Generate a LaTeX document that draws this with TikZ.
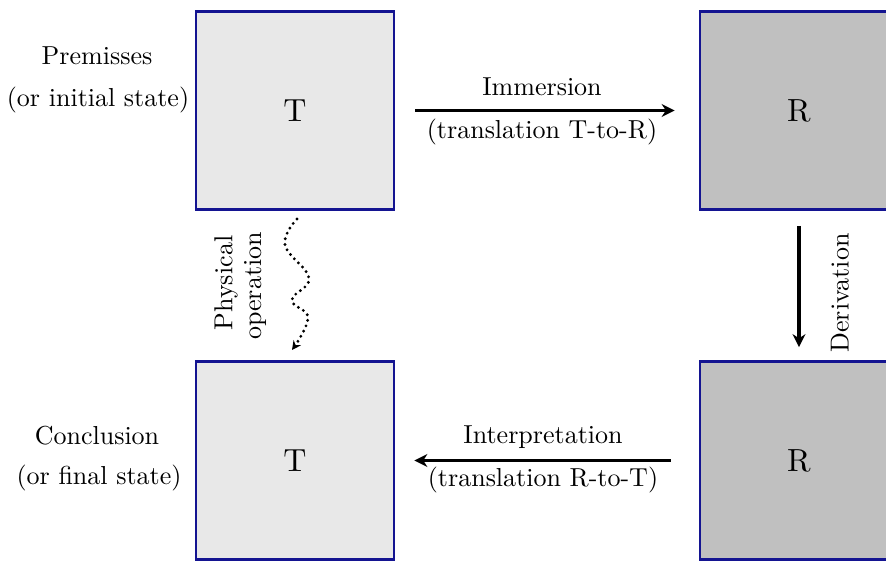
\documentclass[tikz,border=0pt]{standalone}
\usepackage{fontspec}
\setmainfont{lmroman10-regular.otf}
\usetikzlibrary{arrows.meta}
\definecolor{boxblue}{RGB}{20,20,145}
\definecolor{lightfill}{RGB}{232,232,232}
\definecolor{darkfill}{RGB}{192,192,192}
\begin{document}
\begin{tikzpicture}[x=1pt,y=-1pt,
  box/.style={draw=boxblue, line width=2.8pt, minimum width=198pt, minimum height=198pt,
    inner sep=0pt, font=\fontsize{32}{38}\selectfont},
  lbl/.style={inner sep=0pt, font=\fontsize{26}{30}\selectfont},
  arr/.style={line width=3.5pt, -{Stealth[length=13pt,width=13pt]}},
  wavy/.style={line width=3.2pt, dash pattern=on 0pt off 5.8pt, line cap=round,
    -{Stealth[length=9pt,width=9pt]}}]
\useasboundingbox (0,0) rectangle (886,561);
\clip (0,0) rectangle (886,561);
% boxes
\node[box, fill=lightfill] (tl) at (295,110.5) {T};
\node[box, fill=darkfill]  (tr) at (799,110.5) {R};
\node[box, fill=lightfill] (bl) at (295,460.5) {T};
\node[box, fill=darkfill]  (br) at (799,460.5) {R};
% side labels
\node[lbl] (prem) at (97,56) {Premisses};
\node[lbl] (prem2) at (98,100) {(or initial state)};
\node[lbl] (conc) at (97,436) {Conclusion};
\node[lbl] (conc2) at (99,478) {(or final state)};
% immersion
\draw[arr, shorten <=20pt, shorten >=24pt] (tl.east) -- (tr.west);
\node[lbl] (imm) at (542,87) {Immersion};
\node[lbl] (imm2) at (542,132) {(translation T-to-R)};
% interpretation
\draw[arr, shorten <=28pt, shorten >=19pt] (br.west) -- (bl.east);
\node[lbl] (int) at (543,437) {Interpretation};
\node[lbl] (int2) at (543,480) {(translation R-to-T)};
% derivation
\draw[arr, shorten <=15pt, shorten >=13pt] (tr.south) -- (br.north);
\node[lbl, rotate=90] (der) at (840,293) {Derivation};
% physical operation
\coordinate (w0) at (297,219);
\coordinate (w1) at (285,245);
\coordinate (w2) at (309,278);
\coordinate (w3) at (292,300);
\coordinate (w4) at (308,318);
\coordinate (w5) at (292,350);
\draw[wavy] plot[smooth, tension=0.7] coordinates {(w0) (w1) (w2) (w3) (w4) (w5)};
\node[lbl, rotate=90] (phys) at (226,283) {Physical};
\node[lbl, rotate=90] (oper) at (255,286) {operation};
\end{tikzpicture}
\end{document}
